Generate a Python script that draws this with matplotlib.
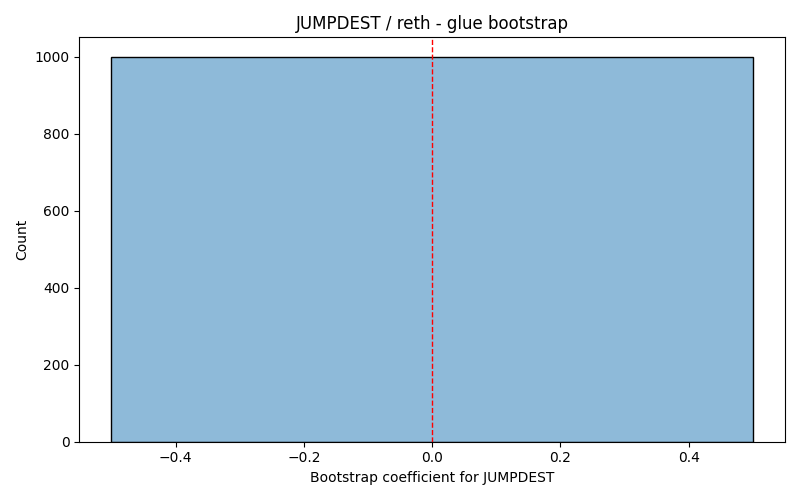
import matplotlib
matplotlib.use("Agg")
import matplotlib.pyplot as plt

# histogram of bootstrap coefficients (all at zero)
bin_edges = [-0.5, 0.5]
counts = [1000]
ref_value = 0.0

fig, ax = plt.subplots(figsize=(8, 5), dpi=100)
lefts = bin_edges[:-1]
widths = [bin_edges[i + 1] - bin_edges[i] for i in range(len(counts))]
ax.bar(lefts, counts, width=widths, align='edge', color='#1f77b4', alpha=0.5,
       edgecolor='none')
ax.bar(lefts, counts, width=widths, align='edge', fill=False,
       edgecolor='black', linewidth=1)
ax.axvline(ref_value, color='red', linestyle='--', linewidth=1)
ax.set_title('JUMPDEST / reth - glue bootstrap')
ax.set_xlabel('Bootstrap coefficient for JUMPDEST')
ax.set_ylabel('Count')
plt.tight_layout()
plt.savefig('out.png')
